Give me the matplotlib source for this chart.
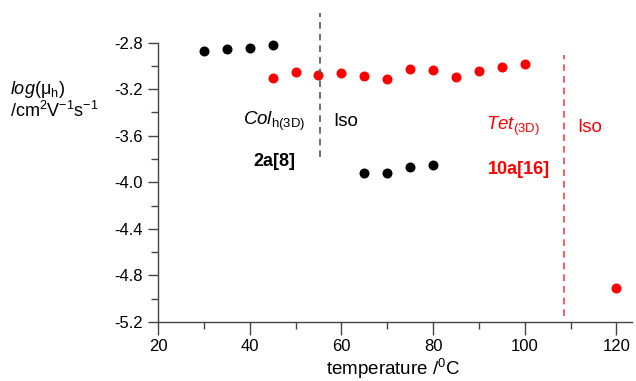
import matplotlib
matplotlib.use("Agg")
import matplotlib.pyplot as plt
from matplotlib.ticker import MultipleLocator, FormatStrFormatter

plt.rcParams['font.family'] = ['Liberation Sans', 'DejaVu Sans']
plt.rcParams['mathtext.fontset'] = 'custom'
plt.rcParams['mathtext.rm'] = 'Liberation Sans'
plt.rcParams['mathtext.it'] = 'Liberation Sans:italic'
plt.rcParams['mathtext.bf'] = 'Liberation Sans:bold'
plt.rcParams['axes.unicode_minus'] = False

# 2a[8] : Col_h(3D) phase, then isotropic
t_2a_col = [30, 35, 40, 45]
mu_2a_col = [-2.877, -2.854, -2.851, -2.822]
t_2a_iso = [65, 70, 75, 80]
mu_2a_iso = [-3.922, -3.922, -3.865, -3.856]

# 10a[16] : Tet(3D) phase, then isotropic
t_10a = [45, 50, 55, 60, 65, 70, 75, 80, 85, 90, 95, 100, 120]
mu_10a = [-3.104, -3.053, -3.079, -3.065, -3.090, -3.113, -3.025,
          -3.039, -3.099, -3.045, -3.008, -2.982, -4.905]

# phase transition temperatures (dashed lines) and their extents
trans_2a = 55.3
trans_2a_span = (-3.785, -2.546)
trans_10a = 108.5
trans_10a_span = (-5.15, -2.905)

fig = plt.figure(figsize=(6.36, 3.81), dpi=100)
ax = fig.add_axes([158/636, 59/381, (632-158)/636, 322/381])

ax.plot(t_2a_col, mu_2a_col, 'o', color='black', ms=7.2, mec='none')
ax.plot(t_2a_iso, mu_2a_iso, 'o', color='black', ms=7.2, mec='none')
ax.plot(t_10a, mu_10a, 'o', color='red', ms=7.2, mec='none', zorder=1)

ax.plot([trans_2a, trans_2a], trans_2a_span, color='#555555', lw=1.2,
        dashes=(4, 3), zorder=2)
ax.plot([trans_10a, trans_10a], trans_10a_span, color='#ff4040', lw=1.2,
        dashes=(4, 3))

ax.set_xlim(20, 123.4)
ax.set_ylim(-5.2, -2.435)

for s in ['top', 'right']:
    ax.spines[s].set_visible(False)
ax.spines['left'].set_bounds(-5.2, -2.8)
for s in ['left', 'bottom']:
    ax.spines[s].set_color('#444444')
    ax.spines[s].set_linewidth(1.0)

ax.xaxis.set_major_locator(MultipleLocator(20))
ax.xaxis.set_minor_locator(MultipleLocator(10))
ax.yaxis.set_major_formatter(FormatStrFormatter('%.1f'))
ax.set_yticks([-5.2, -4.8, -4.4, -4.0, -3.6, -3.2, -2.8])
ax.set_yticks([-5.0, -4.6, -4.2, -3.8, -3.4, -3.0], minor=True)

ax.tick_params(axis='x', which='major', length=9, width=1, color='#444444',
               labelsize=12, pad=3)
ax.tick_params(axis='x', which='minor', length=5, width=1, color='#444444')
ax.tick_params(axis='y', which='major', length=7, width=1, color='#444444',
               labelsize=12, pad=4)
ax.tick_params(axis='y', which='minor', length=5, width=1, color='#444444')

fig.text(0.5 * (327 + 459) / 636, 1 - 375/381, r'temperature /$^{0}$C',
         fontsize=13.5, ha='center', va='baseline')

fig.text(10/636, 1 - 94/381, r'$\mathit{log}$(μ$_{\mathrm{h}}$)', fontsize=13,
         ha='left', va='baseline')
fig.text(10/636, 1 - 117/381, r'/cm$^{2}$V$^{-1}$s$^{-1}$', fontsize=13,
         ha='left', va='baseline')

ax.text(38.5, -3.478, r'$\mathit{Col}_{\mathrm{h(3D)}}$', fontsize=13.5,
        ha='left', va='center')
ax.text(45.3, -3.82, '2a[8]', fontsize=13, fontweight='bold',
        ha='center', va='center')
ax.text(58.3, -3.478, 'Iso', fontsize=13.5, ha='left', va='center')
ax.text(91.5, -3.52, r'$\mathit{Tet}_{\mathrm{(3D)}}$', fontsize=13.5,
        color='red', ha='left', va='center')
ax.text(98.8, -3.888, '10a[16]', fontsize=13, fontweight='bold', color='red',
        ha='center', va='center')
ax.text(111.5, -3.53, 'Iso', fontsize=13.5, color='red', ha='left', va='center')

fig.savefig('out.png', dpi=100)
